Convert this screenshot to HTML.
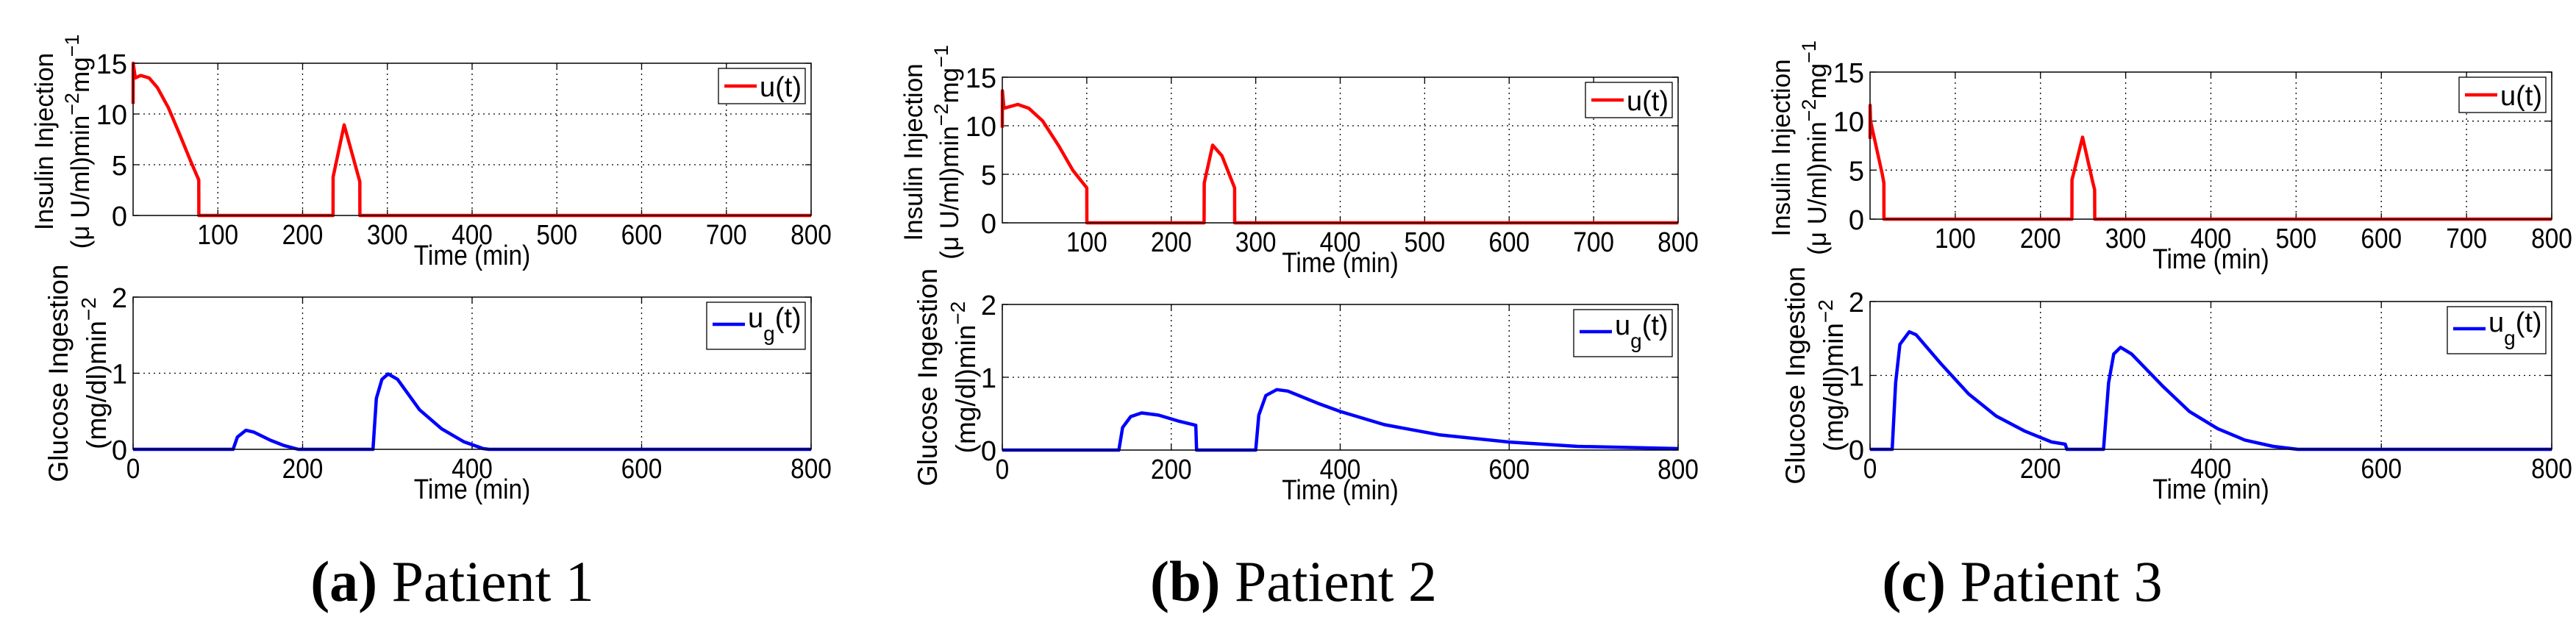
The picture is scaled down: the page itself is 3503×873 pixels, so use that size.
<!DOCTYPE html>
<html><head><meta charset="utf-8"><style>
html,body{margin:0;padding:0;background:#fff;}
svg{display:block;}
text{font-family:"Liberation Sans",sans-serif;}
text.cap{font-family:"Liberation Serif",serif;}
</style></head><body>
<svg id="fig" width="3503" height="873" viewBox="0 0 3503 873" xmlns="http://www.w3.org/2000/svg"></svg>
<script>
// ---- data ----
const p1UT=[0,0.1,2.6,9.1,18.9,28.6,41.7,54.7,67.7,77.5,77.6,235.9,236,249,267.5,267.6,800];
const p1UV=[11,15,13.55,13.8,13.55,12.6,10.6,8.05,5.4,3.5,0,0,3.8,8.93,3.33,0,0];
const p1GT=[0,118,123,133,142.5,162,178,195,283,287,293.6,301,312,338,364,390,413,420,800];
const p1GV=[0,0,0.16,0.25,0.226,0.12,0.05,0,0,0.67,0.92,0.99,0.92,0.52,0.27,0.1,0.01,0,0];
const p2UT=[0,0.1,2,18.3,31.3,47.7,67,83.6,100,100.1,238.9,239,249,260,275,275.1,800];
const p2UV=[9.8,13.6,11.8,12.2,11.8,10.5,7.9,5.4,3.6,0,0,4.1,8.0,6.9,3.6,0,0];
const p2GT=[0,138,142.4,152,165,185,208,229,230,300,303.6,312,325,338,374,400,452,517,600,681,800];
const p2GV=[0,0,0.31,0.46,0.51,0.48,0.4,0.34,0,0,0.48,0.75,0.83,0.81,0.64,0.53,0.35,0.21,0.11,0.05,0.02];
const p3UT=[0,0.1,0.6,9,14.3,16.2,16.3,236.9,237,249.4,261.7,263.6,263.7,800];
const p3UV=[8.2,11.6,10.0,6.7,4.6,3.7,0,0,4.0,8.36,3.66,3.0,0,0];
const p3GT=[0,26,30,35,46,54,83,115.6,148,181,213,229,231,274,280,286,294,307,343,375,408,440,473,502,800];
const p3GV=[0,0,0.9,1.42,1.59,1.55,1.16,0.75,0.45,0.25,0.1,0.07,0,0,0.9,1.29,1.38,1.29,0.86,0.51,0.28,0.125,0.04,0,0];
const topYTicks=[0,5,10,15];
const topXTicks=[100,200,300,400,500,600,700,800];
const botYTicks=[0,1,2];
const botXTicks=[0,200,400,600,800];
const captionsLetter=["(a)","(b)","(c)"];
const captionsText=["Patient 1","Patient 2","Patient 3"];

const NS="http://www.w3.org/2000/svg";
const svg=document.getElementById('fig');
function mk(tag,attrs,parent){const e=document.createElementNS(NS,tag);for(const k in attrs)e.setAttribute(k,attrs[k]);(parent||svg).appendChild(e);return e;}

const panels=[
 {top:{l:181,r:1103,t:86,b:293},bot:{l:181,r:1103,t:404,b:611},ut:p1UT,uv:p1UV,gt:p1GT,gv:p1GV,cx:615},
 {top:{l:1363,r:2282,t:105,b:303},bot:{l:1363,r:2282,t:414,b:612},ut:p2UT,uv:p2UV,gt:p2GT,gv:p2GV,cx:1759},
 {top:{l:2543,r:3470,t:98,b:298},bot:{l:2543,r:3470,t:410,b:611},ut:p3UT,uv:p3UV,gt:p3GT,gv:p3GV,cx:2750}
];

function axes(g,box,ymax,yt,xt,ts,vs,color,isTop){
  const sx=v=>box.l+(v/800)*(box.r-box.l);
  const sy=v=>box.b-(v/ymax)*(box.b-box.t);
  mk('rect',{x:box.l,y:box.t,width:box.r-box.l,height:box.b-box.t,fill:'#fff',stroke:'none'},g);
  xt.forEach(v=>{ if(v>0&&v<800){const l=mk('line',{x1:sx(v),x2:sx(v),y1:box.t,y2:box.b,stroke:'#000','stroke-width':1.3,'stroke-dasharray':'2,5'},g);
    
    }});
  yt.forEach(v=>{ if(v>0&&v<ymax){const l=mk('line',{x1:box.l,x2:box.r,y1:sy(v),y2:sy(v),stroke:'#000','stroke-width':1.3,'stroke-dasharray':'2,5'},g);
    
    }});
  xt.forEach(v=>{
    mk('line',{x1:sx(v),x2:sx(v),y1:box.b,y2:box.b-8,stroke:'#000','stroke-width':1.3},g);
    mk('line',{x1:sx(v),x2:sx(v),y1:box.t,y2:box.t+8,stroke:'#000','stroke-width':1.3},g);
    const t=mk('text',{x:sx(v),y:box.b+39,'font-size':38,'text-anchor':'middle',transform:`translate(${sx(v)},0) scale(0.88,1) translate(${-sx(v)},0)`},g);
    t.textContent=v;
    
    
  });
  yt.forEach(v=>{
    mk('line',{x1:box.l,x2:box.l+8,y1:sy(v),y2:sy(v),stroke:'#000','stroke-width':1.3},g);
    mk('line',{x1:box.r,x2:box.r-8,y1:sy(v),y2:sy(v),stroke:'#000','stroke-width':1.3},g);
    const t=mk('text',{x:box.l-8,y:sy(v)+14,'font-size':38,'text-anchor':'end'},g);
    t.textContent=v;
    
    
  });
  const d=ts.map((t,i)=>(i?'L':'M')+sx(t).toFixed(1)+','+sy(vs[i]).toFixed(1)).join('');
  const p=mk('path',{d:d,fill:'none',stroke:color,'stroke-width':4.5,'stroke-linejoin':'round'},g);
  
  
  mk('rect',{x:box.l,y:box.t,width:box.r-box.l,height:box.b-box.t,fill:'none',stroke:'#000','stroke-width':1.5},g);
  const xl=mk('text',{x:(box.l+box.r)/2,y:box.b+67,'font-size':38,'text-anchor':'middle',transform:`translate(${(box.l+box.r)/2},0) scale(0.88,1) translate(${-(box.l+box.r)/2},0)`},g);
  xl.textContent='Time (min)';
  
  
  const lw=isTop?118:134, lh=isTop?48:64;
  const lx=box.r-8-lw, ly=box.t+7;
  const lg=mk('g',{},g);
  
  
  mk('rect',{x:lx,y:ly,width:lw,height:lh,fill:'#fff',stroke:'#000','stroke-width':1.3},lg);
  mk('line',{x1:lx+8,x2:lx+52,y1:ly+(isTop?24:30),y2:ly+(isTop?24:30),stroke:color,'stroke-width':4.5},lg);
  const lt=mk('text',{x:lx+56,y:ly+(isTop?38:34),'font-size':38},lg);
  if(isTop){lt.textContent='u(t)';}
  else{lt.innerHTML='u<tspan dy="18" font-size="28">g</tspan><tspan dy="-18">(t)</tspan>';}
  
  
}

panels.forEach((P,i)=>{
  const g=mk('g',{});
  
  
  const gt=mk('g',{},g);
  
  
  axes(gt,P.top,15,topYTicks,topXTicks,P.ut,P.uv,'#ff0000',true);
  const gb=mk('g',{},g);
  
  
  axes(gb,P.bot,2,botYTicks,botXTicks,P.gt,P.gv,'#0000ff',false);
  const cyT=(P.top.t+P.top.b)/2+3, cyB=(P.bot.t+P.bot.b)/2;
  let x1=P.top.l-121, x2=P.top.l-72;
  const a=mk('text',{x:0,y:0,'font-size':35,'text-anchor':'middle',transform:`translate(${x1+12},${cyT}) rotate(-90)`},gt);
  a.textContent='Insulin Injection';
  
  
  const b=mk('text',{x:0,y:0,'font-size':35,'text-anchor':'middle',transform:`translate(${x2+12},${cyT}) rotate(-90)`},gt);
  b.innerHTML='(μ U/ml)min<tspan dy="-14" font-size="27">−2</tspan><tspan dy="14">mg</tspan><tspan dy="-14" font-size="27">−1</tspan>';
  
  
  const c=mk('text',{x:0,y:0,'font-size':37,'text-anchor':'middle',transform:`translate(${P.bot.l-102+13},${cyB}) rotate(-90)`},gb);
  c.textContent='Glucose Ingestion';
  
  
  const d=mk('text',{x:0,y:0,'font-size':37,'text-anchor':'middle',transform:`translate(${P.bot.l-50+13},${cyB}) rotate(-90)`},gb);
  d.innerHTML='(mg/dl)min<tspan dy="-14" font-size="28">−2</tspan>';
  
  
  const cap=mk('text',{x:P.cx,y:817,'font-size':78,'text-anchor':'middle','class':'cap'},g);
  cap.innerHTML='<tspan font-weight="bold">'+captionsLetter[i]+'</tspan> '+captionsText[i];
  
  
});
</script>
</body></html>
